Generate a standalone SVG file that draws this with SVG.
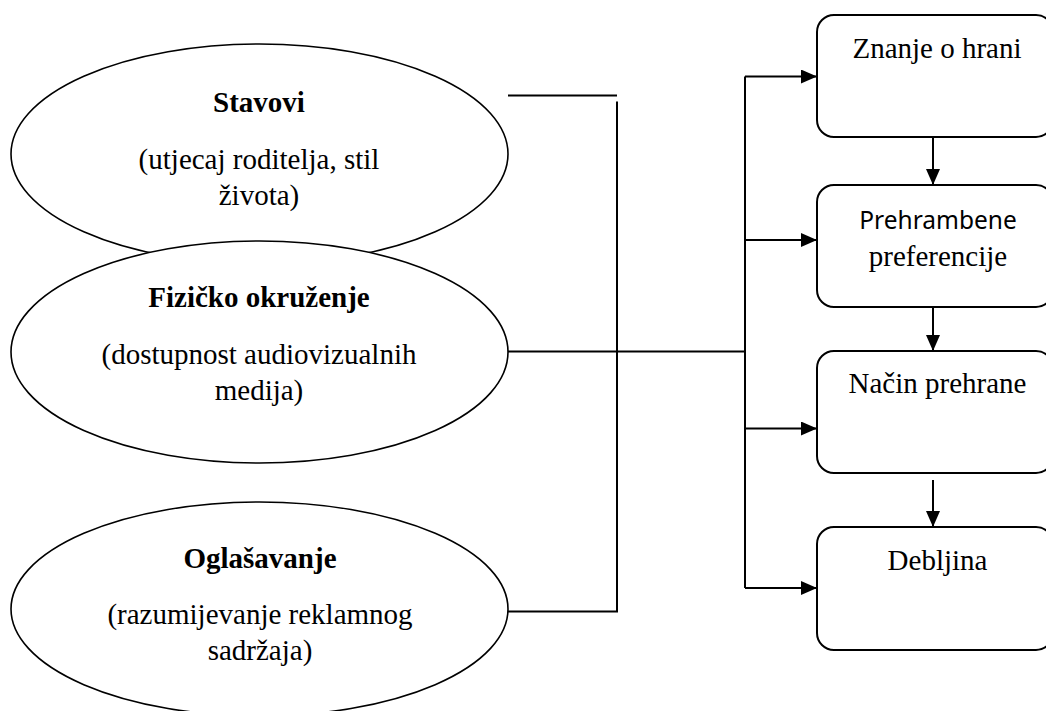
<svg xmlns="http://www.w3.org/2000/svg" width="1046" height="711" viewBox="0 0 1046 711">
<style>
.ell{fill:#fff;stroke:#000;stroke-width:1.6}
.box{fill:#fff;stroke:#000;stroke-width:2}
.ln{fill:none;stroke:#000;stroke-width:2}
.t{font-family:"Liberation Serif","Times New Roman",serif;font-size:29px;fill:#000;text-anchor:middle}
.b{font-weight:bold}
.s{font-family:"Noto Sans","Open Sans",sans-serif;font-size:24.5px;fill:#000;text-anchor:middle}
</style>
<defs>
<marker id="arr" markerUnits="userSpaceOnUse" markerWidth="16" markerHeight="14" refX="16" refY="7" orient="auto">
<path d="M0,0 L16,7 L0,14 z" fill="#000"/>
</marker>
</defs>
<rect width="1046" height="711" fill="#fff"/>
<g id="connectors">
<path class="ln" d="M508,95.5 H617"/>
<path class="ln" d="M617,101.5 V611.5 H508"/>
<path class="ln" d="M508,351.5 H745"/>
<path class="ln" d="M745,76.5 V588"/>
<line class="ln" x1="745" y1="76.5" x2="817" y2="76.5" marker-end="url(#arr)"/>
<line class="ln" x1="745" y1="240" x2="817" y2="240" marker-end="url(#arr)"/>
<line class="ln" x1="745" y1="428.5" x2="817" y2="428.5" marker-end="url(#arr)"/>
<line class="ln" x1="745" y1="588" x2="817" y2="588" marker-end="url(#arr)"/>
<line class="ln" x1="933" y1="137" x2="933" y2="185" marker-end="url(#arr)"/>
<line class="ln" x1="933" y1="304" x2="933" y2="351" marker-end="url(#arr)"/>
<line class="ln" x1="933" y1="480" x2="933" y2="527" marker-end="url(#arr)"/>
</g>
<g id="stavovi">
<ellipse class="ell" cx="259.5" cy="154" rx="248.5" ry="110"/>
<text class="t b" x="259" y="112">Stavovi</text>
<text class="t" x="259" y="169">(utjecaj roditelja, stil</text>
<text class="t" x="259" y="205">života)</text>
</g>
<g id="fizicko">
<ellipse class="ell" cx="259.5" cy="352" rx="248.5" ry="111"/>
<text class="t b" x="259" y="307">Fizičko okruženje</text>
<text class="t" x="259" y="364">(dostupnost audiovizualnih</text>
<text class="t" x="259" y="400">medija)</text>
</g>
<g id="oglasavanje">
<ellipse class="ell" cx="259.5" cy="609" rx="248.5" ry="107"/>
<text class="t b" x="260" y="568">Oglašavanje</text>
<text class="t" x="260" y="624">(razumijevanje reklamnog</text>
<text class="t" x="260" y="660">sadržaja)</text>
</g>
<g id="znanje">
<rect class="box" x="817" y="15" width="236" height="122" rx="17"/>
<text class="t" x="937" y="58">Znanje o hrani</text>
</g>
<g id="preferencije">
<rect class="box" x="817" y="185" width="236" height="122" rx="17"/>
<text class="s" x="938" y="229">Prehrambene</text>
<text class="t" x="938" y="266">preferencije</text>
</g>
<g id="nacin">
<rect class="box" x="817" y="351" width="236" height="122" rx="17"/>
<text class="t" x="937.5" y="393">Način prehrane</text>
</g>
<g id="debljina">
<rect class="box" x="817" y="527" width="236" height="123" rx="17"/>
<text class="t" x="937.5" y="570">Debljina</text>
</g>
</svg>
